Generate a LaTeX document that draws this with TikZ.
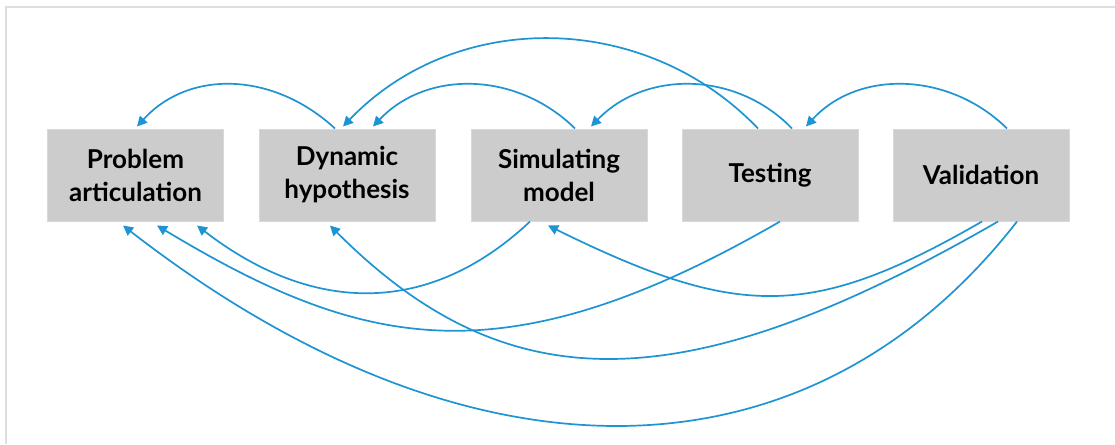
\documentclass[tikz,border=0pt]{standalone}
\usepackage{fontspec}
\setmainfont{Lato}
\usetikzlibrary{arrows.meta}
\definecolor{boxgray}{HTML}{CCCCCC}
\definecolor{boxedge}{HTML}{D9D9D9}
\definecolor{arrowblue}{HTML}{1E94D2}
\definecolor{framegray}{HTML}{DEDEDE}
\begin{document}
\begin{tikzpicture}[x=1pt,y=-1pt,
  stepbox/.style={fill=boxgray, draw=boxedge, line width=1pt, minimum width=176pt, minimum height=92pt,
    inner sep=0pt, align=center, font=\fontsize{26}{33}\selectfont\bfseries},
  link/.style={draw=arrowblue, line width=1.7pt, -{Triangle[length=10pt,width=10pt]}}
]
\useasboundingbox (0,0) rectangle (1115,444);
\fill[white] (0,0) rectangle (1115,444);
\draw[framegray, line width=2pt] (6,444) -- (6,7) -- (1115,7);

\node[stepbox] (pa) at (135.5,175) {Problem\\articulation};
\node[stepbox] (dh) at (347,175) {Dynamic\\hypothesis};
\node[stepbox] (sm) at (559,175) {Simulating\\model};
\node[stepbox] (te) at (770,175) {Testing};
\node[stepbox] (va) at (981,175) {Validation};

% top arcs
\draw[link] ([xshift=-12pt]dh.north) .. controls +(-62,-57) and +(52,-57) .. ([xshift=1.5pt,yshift=2pt]pa.north);
\draw[link] ([xshift=16pt]sm.north) .. controls +(-58,-57) and +(54,-57) .. ([xshift=26pt,yshift=2pt]dh.north);
\draw[link] ([xshift=-12pt]te.north) .. controls +(-113,-118) and +(113,-118) .. ([xshift=-4pt,yshift=2pt]dh.north);
\draw[link] ([xshift=22pt]te.north) .. controls +(-55,-57) and +(55,-57) .. ([xshift=32pt,yshift=2pt]sm.north);
\draw[link] ([xshift=26pt]va.north) .. controls +(-58,-57) and +(52,-57) .. ([xshift=36pt,yshift=2pt]te.north);

% bottom arcs
\draw[link] ([xshift=-29pt]sm.south) .. controls +(-100,94) and +(117,90) .. ([xshift=61.5pt,yshift=-4pt]pa.south);
\draw[link] ([xshift=10pt]te.south) .. controls +(-277,160) and +(206,124) .. ([xshift=21.5pt,yshift=-4pt]pa.south);
\draw[link] ([xshift=36pt]va.south) .. controls +(-211,271) and +(344,267) .. ([xshift=-12.5pt,yshift=-4pt]pa.south);
\draw[link] ([xshift=17pt]va.south) .. controls +(-314,181) and +(178,178) .. ([xshift=-17pt,yshift=-4pt]dh.south);
\draw[link] ([xshift=1pt]va.south) .. controls +(-170,98) and +(191,94) .. ([xshift=-11pt,yshift=-4pt]sm.south);
\end{tikzpicture}
\end{document}
